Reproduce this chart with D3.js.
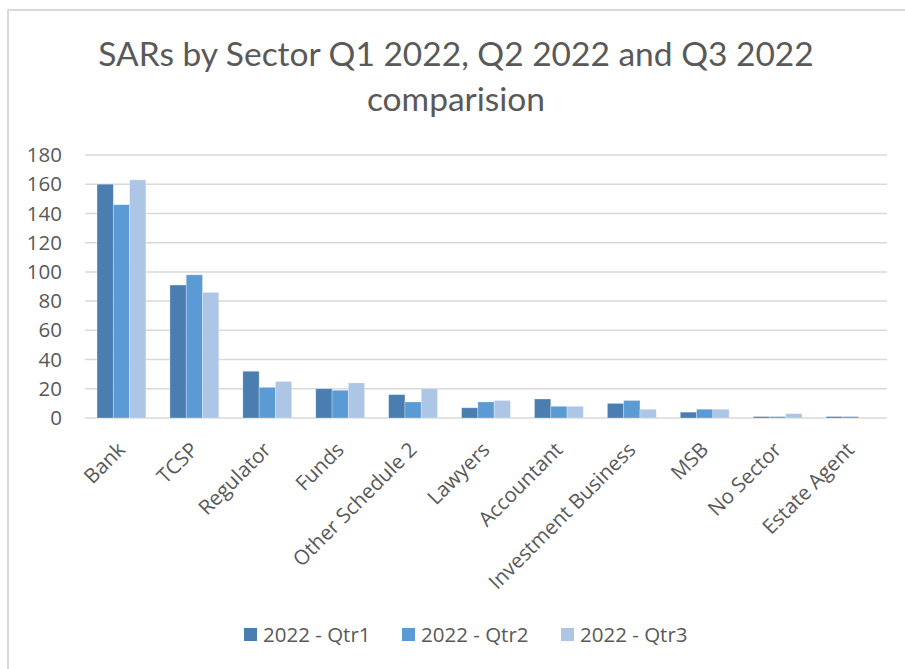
<!DOCTYPE html>
<html>
<head>
<meta charset="utf-8">
<script src="https://cdn.jsdelivr.net/npm/d3@7"></script>
<style>
  html, body { margin: 0; padding: 0; background: #fff; }
  svg { display: block; }
</style>
</head>
<body>
<svg id="chart" width="905" height="669"></svg>
<script>
// Sectors along the x axis
const sectors = ["Bank", "TCSP", "Regulator", "Funds", "Other Schedule 2", "Lawyers",
  "Accountant", "Investment Business", "MSB", "No Sector", "Estate Agent"];

// SAR counts per quarter
const qtr1 = [160, 91, 32, 20, 16, 7, 13, 10, 4, 1, 1];
const qtr2 = [146, 98, 21, 19, 11, 11, 8, 12, 6, 1, 1];
const qtr3 = [163, 86, 25, 24, 20, 12, 8, 6, 6, 3, 0];

const seriesNames = ["2022 - Qtr1", "2022 - Qtr2", "2022 - Qtr3"];
const seriesColors = ["#4a7eb0", "#5b9bd5", "#adc6e6"];
const yTicks = [0, 20, 40, 60, 80, 100, 120, 140, 160, 180];

const series = [qtr1, qtr2, qtr3];
const textColor = "#595959";
const labelFont = "'Open Sans', 'Noto Sans', sans-serif";
const labelSize = "20.5px";

const svg = d3.select("#chart");

// Outer frame of the chart area
svg.append("path")
  .attr("d", "M8,669 L8,10 L905,10")
  .attr("fill", "none")
  .attr("stroke", "#d9d9d9")
  .attr("stroke-width", 2);

// Title
const title = svg.append("text")
  .attr("text-anchor", "middle")
  .attr("fill", textColor)
  .style("font-family", "Lato, 'Open Sans', sans-serif")
  .style("font-size", "33.5px");
title.append("tspan").attr("x", 456).attr("y", 66).text("SARs by Sector Q1 2022, Q2 2022 and Q3 2022");
title.append("tspan").attr("x", 456).attr("y", 111).text("comparision");

const plot = { left: 85, right: 887, top: 155, bottom: 418 };

const x0 = d3.scaleBand()
  .domain(sectors)
  .range([plot.left, plot.right])
  .paddingInner(0.33)
  .paddingOuter(0.165);

const x1 = d3.scaleBand()
  .domain(d3.range(series.length))
  .range([0, x0.bandwidth()]);

const y = d3.scaleLinear().domain([0, 180]).range([plot.bottom, plot.top]);

// Horizontal gridlines
svg.append("g")
  .selectAll("line")
  .data(yTicks)
  .join("line")
  .attr("x1", plot.left)
  .attr("x2", plot.right)
  .attr("y1", d => y(d))
  .attr("y2", d => y(d))
  .attr("stroke", "#d9d9d9")
  .attr("stroke-width", 1.5);

// Y axis labels
const yAxis = svg.append("g")
  .attr("transform", `translate(${plot.left},0)`)
  .call(d3.axisLeft(y).tickValues(yTicks).tickSize(0).tickPadding(23));
yAxis.select(".domain").remove();
yAxis.selectAll("text")
  .attr("fill", textColor)
  .style("font-family", labelFont)
  .style("font-size", labelSize);

// Bars
const groups = svg.append("g")
  .selectAll("g")
  .data(sectors)
  .join("g")
  .attr("transform", d => `translate(${x0(d)},0)`);

groups.selectAll("rect")
  .data((d, i) => series.map((s, k) => ({ k, v: s[i] })))
  .join("rect")
  .attr("x", d => x1(d.k))
  .attr("width", x1.bandwidth())
  .attr("y", d => y(d.v))
  .attr("height", d => y(0) - y(d.v))
  .attr("fill", d => seriesColors[d.k])
  .attr("stroke", "rgba(255,255,255,0.35)")
  .attr("stroke-width", 0.8);

// Category labels, rotated
const xAxis = svg.append("g")
  .attr("transform", `translate(0,${plot.bottom})`)
  .call(d3.axisBottom(x0).tickSize(0).tickPadding(0));
xAxis.select(".domain").remove();
xAxis.selectAll("text")
  .attr("fill", textColor)
  .style("font-family", labelFont)
  .style("font-size", labelSize)
  .attr("text-anchor", "end")
  .attr("dy", "0")
  .attr("transform", "translate(5,33) rotate(-45)");

// Legend
const legendX = [244, 402, 561];
const legend = svg.append("g")
  .selectAll("g")
  .data(seriesNames)
  .join("g")
  .attr("transform", (d, i) => `translate(${legendX[i]},628)`);
legend.append("rect")
  .attr("width", 13).attr("height", 13)
  .attr("fill", (d, i) => seriesColors[i]);
legend.append("text")
  .attr("x", 19).attr("y", 14)
  .attr("fill", textColor)
  .style("font-family", labelFont)
  .style("font-size", labelSize)
  .text(d => d);
</script>
</body>
</html>
